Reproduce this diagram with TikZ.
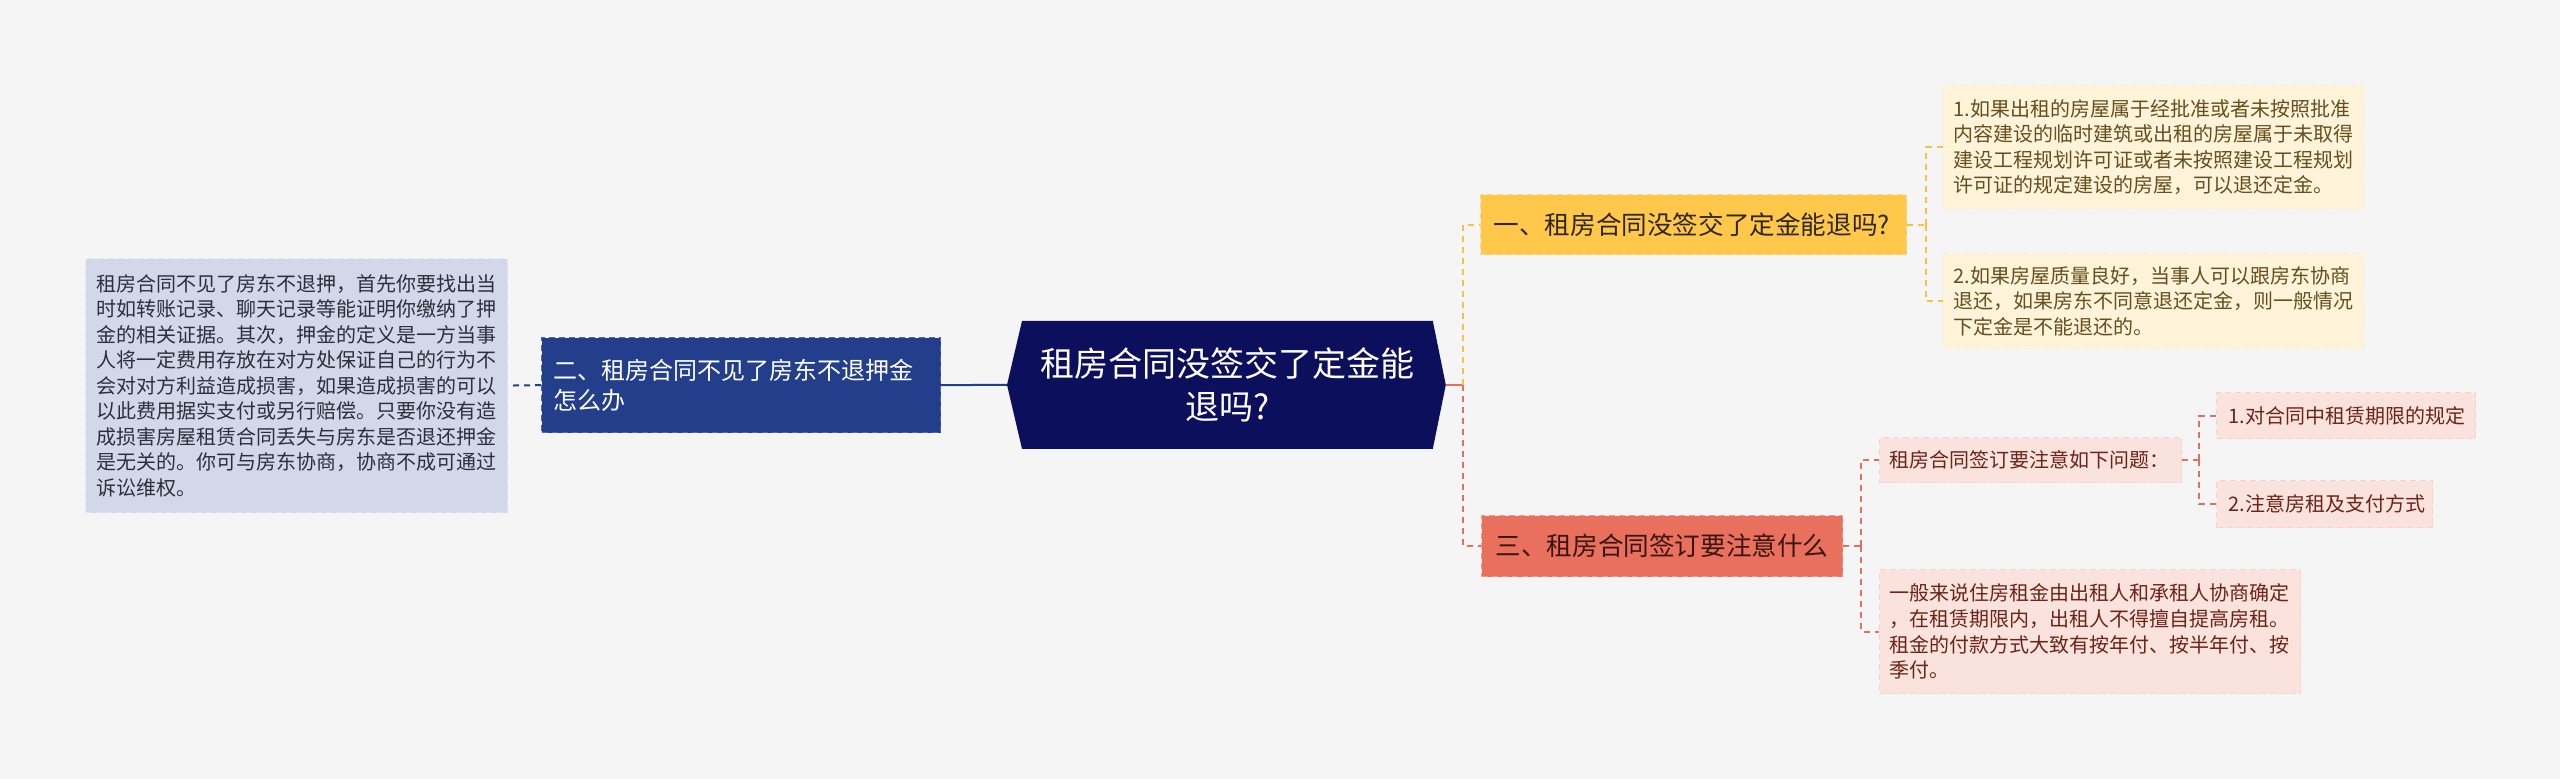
\documentclass[tikz,border=0pt]{standalone}
\usepackage{fontspec}
\setmainfont{Noto Sans CJK SC}
\usetikzlibrary{backgrounds,calc}
\definecolor{bgc}{HTML}{F5F5F5}
\definecolor{cfill}{HTML}{0B0F5C}
\definecolor{bfill}{HTML}{233F8C}
\definecolor{bbord}{HTML}{5068AA}
\definecolor{blfill}{HTML}{D2D8EA}
\definecolor{blbord}{HTML}{E2E6F1}
\definecolor{bltext}{HTML}{2E2E3A}
\definecolor{yfill}{HTML}{FFC84A}
\definecolor{ybord}{HTML}{FBDA85}
\definecolor{ytext}{HTML}{2E2616}
\definecolor{ylfill}{HTML}{FFF4D9}
\definecolor{ylbord}{HTML}{FFEDC4}
\definecolor{yltext}{HTML}{654F1E}
\definecolor{rfill}{HTML}{E8705C}
\definecolor{rbord}{HTML}{F09A8A}
\definecolor{rtext}{HTML}{3A1510}
\definecolor{rlfill}{HTML}{FBE3DD}
\definecolor{rlbord}{HTML}{F6D3CA}
\definecolor{rltext}{HTML}{6B2418}
\definecolor{yline}{HTML}{F5C342}
\definecolor{rline}{HTML}{E07060}
\begin{document}
\begin{tikzpicture}[x=0.5pt,y=-0.5pt,
  boxbase/.style={anchor=north west, inner ysep=1pt, align=left, dash pattern=on 3pt off 2pt, line width=0.6pt},
  cnode/.style={anchor=north west, inner sep=0pt, align=center, text=white, font=\fontsize{17pt}{21.5pt}\selectfont},
  bnode/.style={boxbase, fill=bfill, draw=bbord, text=white, font=\fontsize{12pt}{15pt}\selectfont},
  bleaf/.style={boxbase, fill=blfill, draw=blbord, text=bltext, font=\fontsize{10pt}{12.75pt}\selectfont},
  ynode/.style={boxbase, fill=yfill, draw=ybord, text=ytext, font=\fontsize{12.8pt}{15pt}\selectfont},
  yleaf/.style={boxbase, fill=ylfill, draw=ylbord, text=yltext, font=\fontsize{10pt}{12.8pt}\selectfont},
  rnode/.style={boxbase, fill=rfill, draw=rbord, text=rtext, font=\fontsize{12.8pt}{15pt}\selectfont},
  rleaf/.style={boxbase, fill=rlfill, draw=rlbord, text=rltext, font=\fontsize{10pt}{12.8pt}\selectfont},
  conn/.style={line width=1pt, dash pattern=on 3pt off 2.5pt},
  bconn/.style={conn, draw=bfill},
  yconn/.style={conn, draw=yline},
  rconn/.style={conn, draw=rline}
]
\useasboundingbox (0,0) rectangle (2560,779);

% central
\node[cnode, minimum width=205pt, minimum height=63.5pt] (C) at (1022,321) {租房合同没签交了定金能\\退吗?};
\path (C.east) ++(13,0) coordinate (Cr);
\path (C.west) ++(-15,0) coordinate (Cl);
\begin{scope}[on background layer]
\fill[bgc] (0,0) rectangle (2560,779);
\fill[cfill] (C.north west) -- (C.north east) -- (Cr) -- (C.south east) -- (C.south west) -- (Cl) -- cycle;
\end{scope}

% left branch
\node[bnode, minimum width=199.5pt, minimum height=47.5pt, inner xsep=6pt, text width=187.5pt] (L) at (541,337)
  {二、租房合同不见了房东不退押金\\怎么办};
\node[bleaf, minimum width=211pt, minimum height=127pt, inner xsep=5.5pt, text width=200pt] (LL) at (85,258)
  {租房合同不见了房东不退押，首先你要找出当\\时如转账记录、聊天记录等能证明你缴纳了押\\金的相关证据。其次，押金的定义是一方当事\\人将一定费用存放在对方处保证自己的行为不\\会对对方利益造成损害，如果造成损害的可以\\以此费用据实支付或另行赔偿。只要你没有造\\成损害房屋租赁合同丢失与房东是否退还押金\\是无关的。你可与房东协商，协商不成可通过\\诉讼维权。};

% yellow branch
\node[ynode, minimum width=213pt, minimum height=30pt, inner xsep=6.5pt, text width=200pt] (Y) at (1480,194)
  {一、租房合同没签交了定金能退吗?};
\node[yleaf, minimum width=210pt, minimum height=61.5pt, inner xsep=5pt, text width=200pt] (Y1) at (1943,85)
  {1.如果出租的房屋属于经批准或者未按照批准\\内容建设的临时建筑或出租的房屋属于未取得\\建设工程规划许可证或者未按照建设工程规划\\许可证的规定建设的房屋，可以退还定金。};
\node[yleaf, minimum width=210pt, minimum height=47.5pt, inner xsep=5pt, text width=200pt] (Y2) at (1943,253)
  {2.如果房屋质量良好，当事人可以跟房东协商\\退还，如果房东不同意退还定金，则一般情况\\下定金是不能退还的。};

% red branch
\node[rnode, minimum width=180.5pt, minimum height=30.5pt, inner xsep=7pt, text width=166.5pt] (R) at (1481,515)
  {三、租房合同签订要注意什么};
\node[rleaf, minimum width=151pt, minimum height=22.5pt, inner xsep=5pt, text width=141pt] (R1) at (1879,437)
  {租房合同签订要注意如下问题：};
\node[rleaf, minimum width=210.5pt, minimum height=62pt, inner xsep=5pt, text width=200.5pt] (R2) at (1879,569)
  {一般来说住房租金由出租人和承租人协商确定\\，在租赁期限内，出租人不得擅自提高房租。\\租金的付款方式大致有按年付、按半年付、按\\季付。};
\node[rleaf, minimum width=129.5pt, minimum height=23pt, inner xsep=6pt, text width=117.5pt] (R11) at (2216,392)
  {1.对合同中租赁期限的规定};
\node[rleaf, minimum width=108pt, minimum height=23.5pt, inner xsep=6pt, text width=96pt] (R12) at (2216,480)
  {2.注意房租及支付方式};

% connectors
\draw[line width=1pt, draw=bfill] (Cl) -- (L.east);
\draw[bconn] (L.west) -- (LL.east);
\path (Cr) ++(17,0) coordinate (J);
\draw[line width=1pt, draw=rline] (Cr) -- (J);
\draw[yconn] (J) |- (Y.west);
\draw[rconn] (J) |- (R.west);
\draw[yconn] (Y.east) -- ++(19,0) coordinate (YJ);
\draw[yconn] (YJ) |- (Y1.west);
\draw[yconn] (YJ) |- (Y2.west);
\draw[rconn] (R.east) -- ++(18,0) coordinate (RJ);
\draw[rconn] (RJ) |- (R1.west);
\draw[rconn] (RJ) |- (R2.west);
\draw[rconn] (R1.east) -- ++(17,0) coordinate (R1J);
\draw[rconn] (R1J) |- (R11.west);
\draw[rconn] (R1J) |- (R12.west);
\end{tikzpicture}
\end{document}
